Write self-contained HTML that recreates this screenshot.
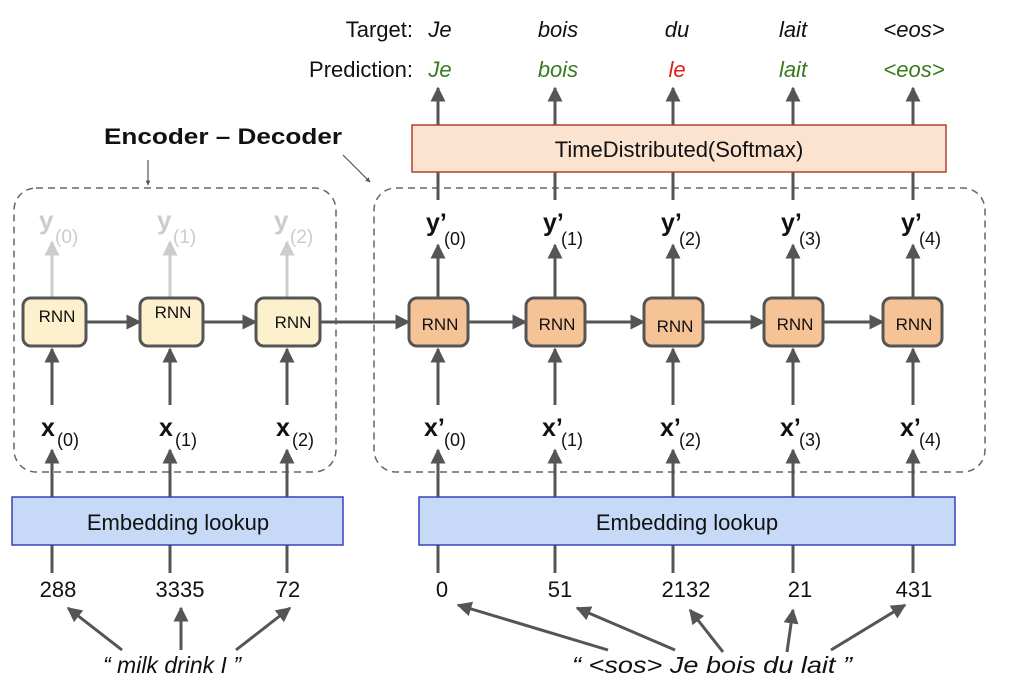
<!DOCTYPE html>
<html><head><meta charset="utf-8"><style>
body{margin:0;background:#fff}
text{font-family:"Liberation Sans",sans-serif}
</style></head><body>
<svg width="1013" height="689" viewBox="0 0 1013 689" xmlns="http://www.w3.org/2000/svg">
<defs>
<marker id="a" viewBox="0 0 10 10" refX="9" refY="5" markerWidth="5" markerHeight="5" orient="auto"><path d="M0,0 L10,5 L0,10 z" fill="#555"/></marker>
<marker id="g" viewBox="0 0 10 10" refX="9" refY="5" markerWidth="5" markerHeight="5" orient="auto"><path d="M0,0 L10,5 L0,10 z" fill="#ccc"/></marker>
<marker id="s" viewBox="0 0 10 10" refX="9" refY="5" markerWidth="4" markerHeight="4" orient="auto"><path d="M0,0 L10,5 L0,10 z" fill="#555"/></marker>
</defs>
<g stroke="#666" stroke-width="1.5" stroke-dasharray="7,5" fill="none">
<rect x="14" y="188" width="322" height="284" rx="22"/>
<rect x="374" y="188" width="611" height="284" rx="22"/>
</g>
<g font-size="22">
<text x="413" y="37" text-anchor="end" fill="#111">Target:</text>
<text x="413" y="77" text-anchor="end" fill="#111">Prediction:</text>
<g font-style="italic" text-anchor="middle" fill="#111">
<text x="440" y="37">Je</text><text x="558" y="37">bois</text><text x="677" y="37">du</text><text x="793" y="37">lait</text><text x="914" y="37">&lt;eos&gt;</text>
</g>
<g font-style="italic" text-anchor="middle" fill="#3a7a1e">
<text x="440" y="77">Je</text><text x="558" y="77">bois</text><text x="677" y="77" fill="#e0201a">le</text><text x="793" y="77">lait</text><text x="914" y="77">&lt;eos&gt;</text>
</g>
</g>
<text x="223" y="144" font-size="22" font-weight="bold" text-anchor="middle" fill="#111" textLength="238" lengthAdjust="spacingAndGlyphs">Encoder – Decoder</text>
<line x1="148" y1="160" x2="148" y2="185" stroke="#555" stroke-width="1.2" marker-end="url(#s)"/>
<line x1="343" y1="155" x2="370" y2="182" stroke="#555" stroke-width="1.2" marker-end="url(#s)"/>
<g stroke="#555" stroke-width="3" marker-end="url(#a)">
<line x1="438" y1="200" x2="438" y2="88"/><line x1="555" y1="200" x2="555" y2="88"/><line x1="673" y1="200" x2="673" y2="88"/><line x1="793" y1="200" x2="793" y2="88"/><line x1="913" y1="200" x2="913" y2="88"/>
</g>
<rect x="412" y="125" width="534" height="47" fill="#fbe3d0" stroke="#b04030" stroke-width="1.5"/>
<text x="679" y="157" font-size="22" text-anchor="middle" fill="#111">TimeDistributed(Softmax)</text>
<g stroke="#ccc" stroke-width="3" marker-end="url(#g)">
<line x1="52" y1="298" x2="52" y2="242"/><line x1="170" y1="298" x2="170" y2="242"/><line x1="287" y1="298" x2="287" y2="242"/>
</g>
<g fill="#ccc" font-size="26"><text x="39" y="229" font-weight="bold">y</text><text x="55" y="243" font-size="19">(0)</text>
<text x="157" y="229" font-weight="bold">y</text><text x="173" y="243" font-size="19">(1)</text>
<text x="274" y="229" font-weight="bold">y</text><text x="290" y="243" font-size="19">(2)</text></g>
<g stroke="#555" stroke-width="3" marker-end="url(#a)">
<line x1="438" y1="298" x2="438" y2="245"/><line x1="555" y1="298" x2="555" y2="245"/><line x1="673" y1="298" x2="673" y2="245"/><line x1="793" y1="298" x2="793" y2="245"/><line x1="913" y1="298" x2="913" y2="245"/>
</g>
<g fill="#111" font-size="25">
<text x="426" y="231" font-weight="bold">y’</text><text x="444" y="245" font-size="18">(0)</text>
<text x="543" y="231" font-weight="bold">y’</text><text x="561" y="245" font-size="18">(1)</text>
<text x="661" y="231" font-weight="bold">y’</text><text x="679" y="245" font-size="18">(2)</text>
<text x="781" y="231" font-weight="bold">y’</text><text x="799" y="245" font-size="18">(3)</text>
<text x="901" y="231" font-weight="bold">y’</text><text x="919" y="245" font-size="18">(4)</text>
</g>
<g stroke="#555" stroke-width="3" marker-end="url(#a)">
<line x1="86" y1="322" x2="140" y2="322"/><line x1="203" y1="322" x2="256" y2="322"/><line x1="320" y1="322" x2="409" y2="322"/>
<line x1="468" y1="322" x2="526" y2="322"/><line x1="585" y1="322" x2="644" y2="322"/><line x1="703" y1="322" x2="764" y2="322"/><line x1="823" y1="322" x2="883" y2="322"/>
</g>
<g stroke="#555" stroke-width="3">
<rect x="23" y="298" width="63" height="48" rx="8" fill="#fdf0cc"/>
<rect x="140" y="298" width="63" height="48" rx="8" fill="#fdf0cc"/>
<rect x="256" y="298" width="64" height="48" rx="8" fill="#fdf0cc"/>
<rect x="409" y="298" width="59" height="48" rx="8" fill="#f6c396"/>
<rect x="526" y="298" width="59" height="48" rx="8" fill="#f6c396"/>
<rect x="644" y="298" width="59" height="48" rx="8" fill="#f6c396"/>
<rect x="764" y="298" width="59" height="48" rx="8" fill="#f6c396"/>
<rect x="883" y="298" width="59" height="48" rx="8" fill="#f6c396"/>
</g>
<g font-size="17" fill="#111" text-anchor="middle">
<text x="57" y="322">RNN</text><text x="173" y="318">RNN</text><text x="293" y="328">RNN</text>
<text x="440" y="330">RNN</text><text x="557" y="330">RNN</text><text x="675" y="332">RNN</text><text x="795" y="330">RNN</text><text x="914" y="330">RNN</text>
</g>
<g stroke="#555" stroke-width="3" marker-end="url(#a)">
<line x1="52" y1="405" x2="52" y2="349"/><line x1="170" y1="405" x2="170" y2="349"/><line x1="287" y1="405" x2="287" y2="349"/>
<line x1="438" y1="405" x2="438" y2="349"/><line x1="555" y1="405" x2="555" y2="349"/><line x1="673" y1="405" x2="673" y2="349"/><line x1="793" y1="405" x2="793" y2="349"/><line x1="913" y1="405" x2="913" y2="349"/>
</g>
<g fill="#111" font-size="25">
<text x="41" y="436" font-weight="bold">x</text><text x="57" y="446" font-size="18">(0)</text>
<text x="159" y="436" font-weight="bold">x</text><text x="175" y="446" font-size="18">(1)</text>
<text x="276" y="436" font-weight="bold">x</text><text x="292" y="446" font-size="18">(2)</text>
<text x="424" y="436" font-weight="bold">x’</text><text x="444" y="446" font-size="18">(0)</text>
<text x="542" y="436" font-weight="bold">x’</text><text x="561" y="446" font-size="18">(1)</text>
<text x="660" y="436" font-weight="bold">x’</text><text x="679" y="446" font-size="18">(2)</text>
<text x="780" y="436" font-weight="bold">x’</text><text x="799" y="446" font-size="18">(3)</text>
<text x="900" y="436" font-weight="bold">x’</text><text x="919" y="446" font-size="18">(4)</text>
</g>
<g stroke="#555" stroke-width="3" marker-end="url(#a)">
<line x1="52" y1="575" x2="52" y2="450"/><line x1="170" y1="575" x2="170" y2="450"/><line x1="287" y1="575" x2="287" y2="450"/>
<line x1="438" y1="575" x2="438" y2="450"/><line x1="555" y1="575" x2="555" y2="450"/><line x1="673" y1="575" x2="673" y2="450"/><line x1="793" y1="575" x2="793" y2="450"/><line x1="913" y1="575" x2="913" y2="450"/>
</g>
<rect x="12" y="497" width="331" height="48" fill="#c6d9f7" stroke="#3344bb" stroke-width="1.5"/>
<rect x="419" y="497" width="536" height="48" fill="#c6d9f7" stroke="#3344bb" stroke-width="1.5"/>
<g font-size="22" fill="#111" text-anchor="middle">
<text x="178" y="530">Embedding lookup</text><text x="687" y="530">Embedding lookup</text>
</g>
<rect x="0" y="573" width="1013" height="30" fill="#fff"/>
<g font-size="22" fill="#111" text-anchor="middle">
<text x="58" y="597">288</text><text x="180" y="597">3335</text><text x="288" y="597">72</text>
<text x="442" y="597">0</text><text x="560" y="597">51</text><text x="686" y="597">2132</text><text x="800" y="597">21</text><text x="914" y="597">431</text>
</g>
<g stroke="#555" stroke-width="3" marker-end="url(#a)">
<line x1="122" y1="650" x2="68" y2="608"/><line x1="181" y1="650" x2="181" y2="608"/><line x1="236" y1="650" x2="290" y2="608"/>
<line x1="608" y1="650" x2="458" y2="605"/><line x1="675" y1="650" x2="577" y2="608"/><line x1="723" y1="652" x2="690" y2="610"/><line x1="787" y1="652" x2="793" y2="610"/><line x1="831" y1="650" x2="905" y2="605"/>
</g>
<g font-size="23" fill="#111" font-style="italic" text-anchor="middle">
<text x="172" y="673">“ milk drink I ”</text>
<text x="712" y="673" textLength="280" lengthAdjust="spacingAndGlyphs">“ &lt;sos&gt;  Je bois du lait ”</text>
</g>
</svg>
</body></html>
